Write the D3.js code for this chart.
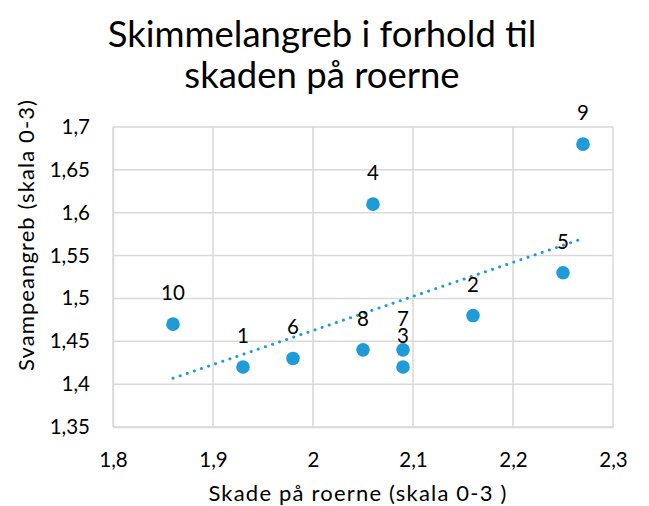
<!DOCTYPE html>
<html>
<head>
<meta charset="utf-8">
<script src="https://cdn.jsdelivr.net/npm/d3@7"></script>
<style>
  body { margin: 0; background: #fff; }
  svg text { font-family: Lato, "Open Sans", sans-serif; fill: #000; }
</style>
</head>
<body>
<svg id="chart" width="649" height="506"></svg>
<script>
// data
const labels = ["1", "2", "3", "4", "5", "6", "7", "8", "9", "10"];
const skade = [1.93, 2.16, 2.09, 2.06, 2.25, 1.98, 2.09, 2.05, 2.27, 1.86];
const svamp = [1.42, 1.48, 1.42, 1.61, 1.53, 1.43, 1.44, 1.44, 1.68, 1.47];
const xTicks = [1.8, 1.9, 2.0, 2.1, 2.2, 2.3];
const yTicks = [1.35, 1.4, 1.45, 1.5, 1.55, 1.6, 1.65, 1.7];

const titleLines = ["Skimmelangreb i forhold til", "skaden på roerne"];
const xTitle = "Skade på roerne (skala 0-3 )";
const yTitle = "Svampeangreb (skala 0-3)";

const blue = "#1f9bd7";
const grid = "#d9d9d9";

const svg = d3.select("#chart");
const margin = {top: 127, right: 36, bottom: 79, left: 113};
const width = 649, height = 506;

const x = d3.scaleLinear().domain([1.8, 2.3])
  .range([margin.left, width - margin.right]);
const y = d3.scaleLinear().domain([1.35, 1.7])
  .range([height - margin.bottom, margin.top]);

const fmt = d => d3.format("")(+d.toFixed(2)).replace(".", ",");

// gridlines
svg.append("g")
  .attr("class", "grid-x")
  .selectAll("line")
  .data(xTicks)
  .join("line")
    .attr("x1", d => x(d)).attr("x2", d => x(d))
    .attr("y1", y(1.35)).attr("y2", y(1.7))
    .attr("stroke", grid).attr("stroke-width", 1.5);

svg.append("g")
  .attr("class", "grid-y")
  .selectAll("line")
  .data(yTicks)
  .join("line")
    .attr("x1", x(1.8)).attr("x2", x(2.3))
    .attr("y1", d => y(d)).attr("y2", d => y(d))
    .attr("stroke", grid).attr("stroke-width", 1.5);

// axes (ticks only as labels)
const xAxis = svg.append("g")
  .attr("transform", `translate(0,${y(1.35)})`)
  .call(d3.axisBottom(x).tickValues(xTicks).tickSize(0).tickPadding(25).tickFormat(fmt));
const yAxis = svg.append("g")
  .attr("transform", `translate(${x(1.8)},0)`)
  .call(d3.axisLeft(y).tickValues(yTicks).tickSize(0).tickPadding(23).tickFormat(fmt));
[xAxis, yAxis].forEach(g => {
  g.select(".domain").attr("stroke", grid).attr("stroke-width", 1.5);
  g.selectAll("text").style("font-family", "Lato, sans-serif").attr("font-size", 20.5).attr("fill", "#000");
});

// trendline (least squares)
const pts = skade.map((v, i) => ({x: v, y: svamp[i], label: labels[i]}));
const mx = d3.mean(skade), my = d3.mean(svamp);
const slope = d3.sum(pts, p => (p.x - mx) * (p.y - my)) / d3.sum(pts, p => (p.x - mx) ** 2);
const x0 = d3.min(skade), x1 = d3.max(skade);
svg.append("line")
  .attr("x1", x(x0)).attr("y1", y(my + slope * (x0 - mx)))
  .attr("x2", x(x1)).attr("y2", y(my + slope * (x1 - mx)))
  .attr("stroke", blue).attr("stroke-width", 3)
  .attr("stroke-linecap", "round")
  .attr("stroke-dasharray", "0.1 7.4");

// points
svg.append("g")
  .attr("fill", blue)
  .selectAll("circle")
  .data(pts)
  .join("circle")
    .attr("cx", d => x(d.x))
    .attr("cy", d => y(d.y))
    .attr("r", 6.8);

// point labels
svg.append("g")
  .selectAll("text")
  .data(pts)
  .join("text")
    .attr("x", d => x(d.x))
    .attr("y", d => y(d.y) - 24)
    .attr("text-anchor", "middle")
    .attr("font-size", 20.5)
    .text(d => d.label);

// titles
svg.append("text")
  .attr("x", 322).attr("text-anchor", "middle")
  .attr("font-size", 36.5)
  .selectAll("tspan")
  .data(titleLines)
  .join("tspan")
    .attr("x", 322)
    .attr("y", (d, i) => 47 + i * 41)
    .text(d => d);

svg.append("text")
  .attr("x", 358).attr("y", 501)
  .attr("text-anchor", "middle")
  .attr("font-size", 22)
  .attr("letter-spacing", 1.2)
  .text(xTitle);

svg.append("text")
  .attr("transform", "translate(34,235) rotate(-90)")
  .attr("text-anchor", "middle")
  .attr("font-size", 22)
  .attr("letter-spacing", 1.1)
  .text(yTitle);
</script>
</body>
</html>
